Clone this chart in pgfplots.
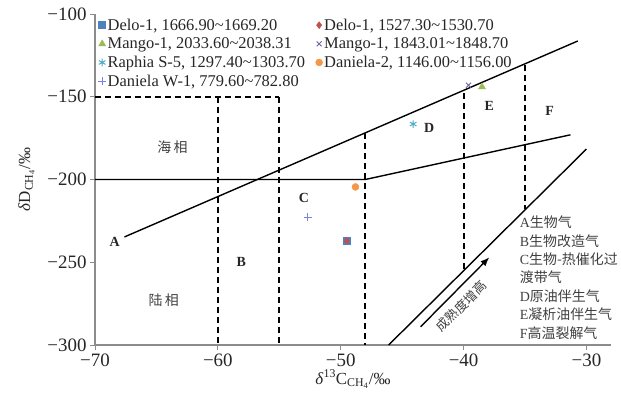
\documentclass[border=0pt]{standalone}
\usepackage{fontspec}
\setmainfont{Liberation Serif}
\newfontfamily\cjk{Noto Sans CJK SC}
\usepackage{pgfplots}
\pgfplotsset{compat=1.18}
\usetikzlibrary{arrows.meta,calc}

\definecolor{sblue}{HTML}{4F81BD}
\definecolor{sred}{HTML}{C0504D}
\definecolor{sgreen}{HTML}{9BBB59}
\definecolor{spurple}{HTML}{6A5FA8}
\definecolor{scyan}{HTML}{4BACC6}
\definecolor{sorange}{HTML}{F79646}
\definecolor{splus}{RGB}{120,130,230}
\definecolor{axgray}{RGB}{140,140,140}

\newcommand{\tl}{\textasciitilde}

\begin{document}
\begin{tikzpicture}
\begin{axis}[name=ax,
  width=516bp, height=331bp, scale only axis,
  xmin=-70, xmax=-28, ymin=-300, ymax=-100,
  axis x line=bottom, axis y line=left,
  axis line style={-, axgray, line width=1.1bp},
  xtick={-70,-60,-50,-40,-30}, xticklabels={−70,−60,−50,−40,−30},
  ytick={-300,-250,-200,-150,-100}, yticklabels={−300,−250,−200,−150,−100},
  tick align=outside, major tick length=5bp,
  tick style={axgray, line width=0.8bp},
  ticklabel style={font=\fontsize{19}{19}\selectfont, text=black!85},
  xlabel={\textit{δ}\textsuperscript{13}C\textsubscript{CH\textsubscript{4}}/‰},
  ylabel={\textit{δ}D\textsubscript{CH\textsubscript{4}}/‰},
  label style={font=\fontsize{17}{17}\selectfont, text=black!85},
  xlabel style={yshift=3bp},
  ylabel style={yshift=6bp},
  clip=false,
  legend columns=2,
  legend cell align=left,
  legend style={draw=none, fill=none, at={(axis description cs:0,1)}, anchor=north west,
    xshift=0bp, yshift=-1bp,
    font=\fontsize{16.5}{17}\selectfont, text=black!85,
    nodes={inner sep=1.5bp}, row sep=3bp,
    /tikz/every even column/.append style={column sep=9bp}},
  legend image code/.code={\draw[mark repeat=2,mark phase=2] plot coordinates {(0cm,0cm) (0.2cm,0cm) (0.4cm,0cm)};},
]
% scatter samples
\addplot[only marks, mark=square*, mark size=3.5bp, color=sblue] coordinates {(-49.5,-237)};
\addplot[only marks, mark=diamond*, mark size=3.5bp, color=sred] coordinates {(-49.5,-237)};
\addplot[only marks, mark=triangle*, mark size=4bp, color=sgreen] coordinates {(-38.5,-144)};
\addplot[only marks, mark=x, mark size=3.5bp, color=spurple, line width=0.9bp] coordinates {(-39.6,-143)};
\addplot[only marks, mark=asterisk, mark size=3.8bp, color=scyan, line width=1bp] coordinates {(-44.1,-166.5)};
\addplot[only marks, mark=*, mark size=3.5bp, color=sorange] coordinates {(-48.8,-204.5)};
\addplot[only marks, mark=+, mark size=4bp, color=splus, line width=0.8bp] coordinates {(-52.7,-222.7)};
\legend{{Delo-1, 1666.90\tl1669.20}, {Delo-1, 1527.30\tl1530.70},
  {Mango-1, 2033.60\tl2038.31}, {Mango-1, 1843.01\tl1848.70},
  {Raphia S-5, 1297.40\tl1303.70}, {Daniela-2, 1146.00\tl1156.00},
  {Daniela W-1, 779.60\tl782.80}}

% boundaries
\addplot[forget plot, black, line width=1.4bp] coordinates {(-67.6,-234.7) (-30.7,-116.3)};
\addplot[forget plot, black, line width=1.4bp] coordinates {(-70,-200) (-48,-200) (-31.3,-173)};
\addplot[forget plot, black, line width=1.4bp] coordinates {(-46.1,-300) (-30,-181.6)};
\addplot[forget plot, black, line width=1.4bp, -{Latex[length=9bp,width=7bp]}] coordinates {(-43.5,-289) (-37.9,-247)};
\addplot[forget plot, black, line width=2bp, dash pattern=on 6bp off 4bp] coordinates {(-70,-150) (-55,-150)};
\addplot[forget plot, black, line width=2bp, dash pattern=on 6bp off 4bp] coordinates {(-60,-150) (-60,-300)};
\addplot[forget plot, black, line width=2bp, dash pattern=on 6bp off 4bp] coordinates {(-55,-150) (-55,-300)};
\addplot[forget plot, black, line width=2bp, dash pattern=on 6bp off 4bp] coordinates {(-48,-172) (-48,-300)};
\addplot[forget plot, black, line width=2bp, dash pattern=on 6bp off 4bp] coordinates {(-40,-148) (-40,-255)};
\addplot[forget plot, black, line width=2bp, dash pattern=on 6bp off 4bp] coordinates {(-35,-131) (-35,-218)};

% region letters
\begin{scope}[every node/.style={font=\fontsize{14}{14}\selectfont\bfseries, text=black!85}]
\node at (axis cs:-68.4,-238) {A};
\node at (axis cs:-58.1,-250) {B};
\node at (axis cs:-53,-211) {C};
\node at (axis cs:-42.8,-169) {D};
\node at (axis cs:-37.9,-155.5) {E};
\node at (axis cs:-33,-158.6) {F};
\end{scope}
\begin{scope}[every node/.style={font=\fontsize{14}{14}\selectfont, text=black!75}]
\node at (axis cs:-63.7,-180.4) {\cjk 海\,相};
\node at (axis cs:-64.4,-272.8) {\cjk 陆\,相};
\node[rotate=45, font=\fontsize{13}{13}\selectfont, inner sep=0pt] at (axis cs:-40.2,-276.5) {\cjk 成熟度增高};
\node[anchor=base west] at (axis cs:-35.7,-229.3) {A\cjk 生物气};
\node[anchor=base west] at (axis cs:-35.7,-240.2) {B\cjk 生物改造气};
\node[anchor=base west] at (axis cs:-35.7,-251.5) {C\cjk 生物-热催化过};
\node[anchor=base west] at (axis cs:-35.7,-262.2) {\cjk 渡带气};
\node[anchor=base west] at (axis cs:-35.7,-273.8) {D\cjk 原油伴生气};
\node[anchor=base west] at (axis cs:-35.7,-284.8) {E\cjk 凝析油伴生气};
\node[anchor=base west] at (axis cs:-35.7,-295.8) {F\cjk 高温裂解气};
\end{scope}
\end{axis}
\pgfresetboundingbox
\path[use as bounding box] ($(ax.south west)+(-95bp,-56bp)$) rectangle ($(ax.south west)+(526bp,345bp)$);
\end{tikzpicture}
\end{document}
